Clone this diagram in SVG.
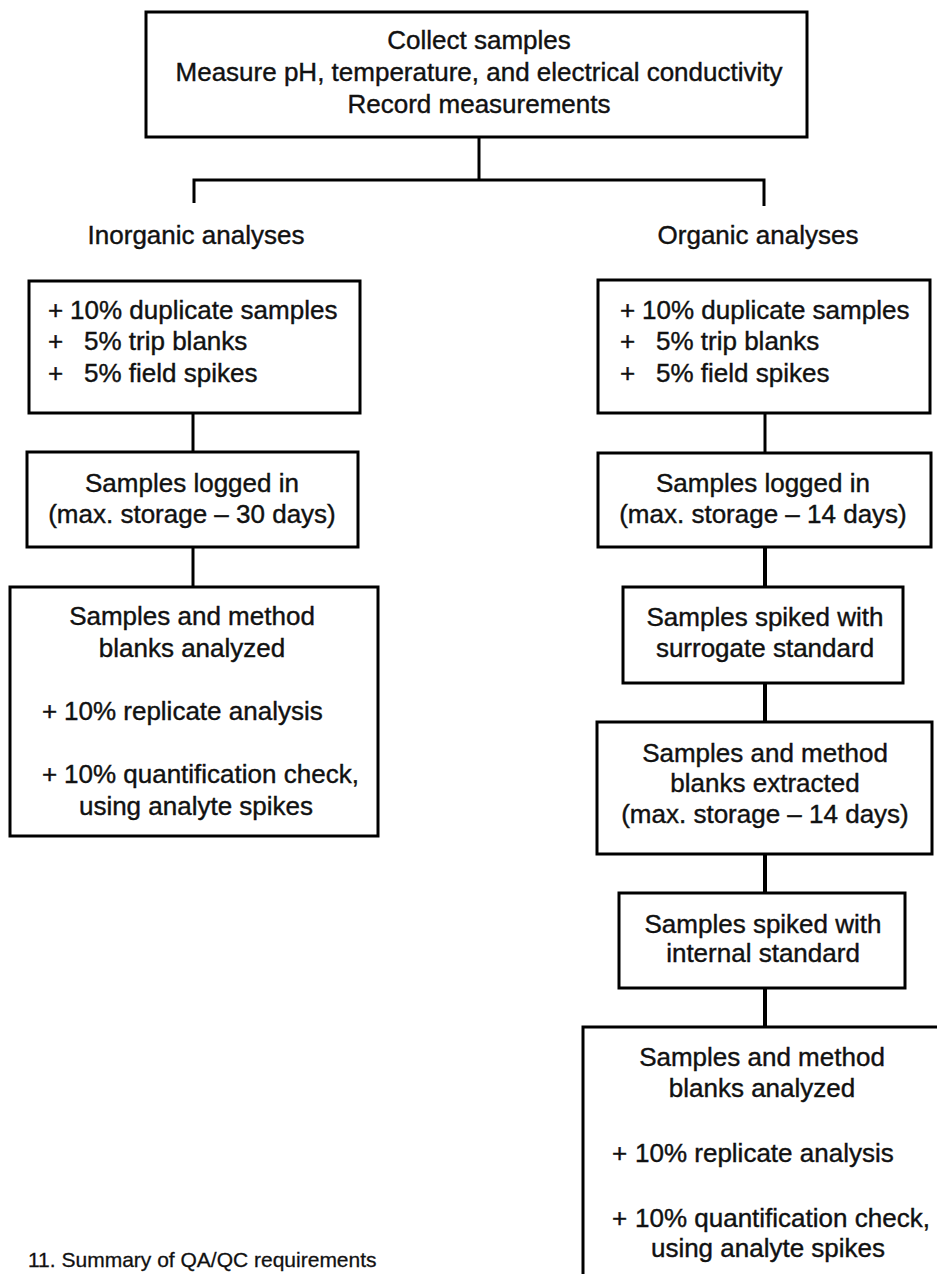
<svg xmlns="http://www.w3.org/2000/svg" width="937" height="1274" viewBox="0 0 937 1274">
<style>
rect.box{fill:#fff;stroke:#000;stroke-width:3}
.con{fill:none;stroke:#000;stroke-width:3}
text{font-family:"Liberation Sans",Arial,sans-serif;font-size:26px;fill:#111;stroke:#111;stroke-width:0.4}
.c{text-anchor:middle}
</style>
<rect width="937" height="1274" fill="#fff"/>
<g id="connectors">
<path class="con" d="M479,137 V180"/>
<path class="con" d="M194,203 V180 H764 V206"/>
<path class="con" d="M193,413 V452"/>
<path class="con" d="M193,547 V587"/>
<path class="con" d="M765,413 V453"/>
<path class="con" d="M765,547 V587" style="stroke-width:4"/>
<path class="con" d="M765,683 V722" style="stroke-width:4"/>
<path class="con" d="M765,854 V893" style="stroke-width:4"/>
<path class="con" d="M765,988 V1027" style="stroke-width:4"/>
</g>
<g id="collect">
<rect class="box" x="146" y="12" width="661" height="125"/>
<text class="c" x="479" y="49">Collect samples</text>
<text class="c" x="479" y="81">Measure pH, temperature, and electrical conductivity</text>
<text class="c" x="479" y="113">Record measurements</text>
</g>
<g id="label-inorganic"><text class="c" x="196" y="244">Inorganic analyses</text></g>
<g id="label-organic"><text class="c" x="758" y="244">Organic analyses</text></g>
<g id="inorg-qc">
<rect class="box" x="29" y="281" width="331" height="132"/>
<text x="48" y="319">+</text><text x="70" y="319">10% duplicate samples</text>
<text x="48" y="350">+</text><text x="84" y="350">5% trip blanks</text>
<text x="48" y="382">+</text><text x="84" y="382">5% field spikes</text>
</g>
<g id="inorg-logged">
<rect class="box" x="27" y="452" width="331" height="95"/>
<text class="c" x="192" y="492">Samples logged in</text>
<text class="c" x="192" y="523">(max. storage – 30 days)</text>
</g>
<g id="inorg-analyzed">
<rect class="box" x="10" y="587" width="368" height="249"/>
<text class="c" x="192" y="625">Samples and method</text>
<text class="c" x="192" y="657">blanks analyzed</text>
<text x="42" y="720">+</text><text x="64" y="720">10% replicate analysis</text>
<text x="42" y="783">+</text><text x="64" y="783">10% quantification check,</text>
<text class="c" x="196" y="815">using analyte spikes</text>
</g>
<g id="org-qc">
<rect class="box" x="598" y="280" width="332" height="133"/>
<text x="620" y="319">+</text><text x="642" y="319">10% duplicate samples</text>
<text x="620" y="350">+</text><text x="656" y="350">5% trip blanks</text>
<text x="620" y="382">+</text><text x="656" y="382">5% field spikes</text>
</g>
<g id="org-logged">
<rect class="box" x="598" y="453" width="333" height="94"/>
<text class="c" x="763" y="492">Samples logged in</text>
<text class="c" x="763" y="523">(max. storage – 14 days)</text>
</g>
<g id="org-surrogate">
<rect class="box" x="623" y="587" width="280" height="96"/>
<text class="c" x="765" y="626">Samples spiked with</text>
<text class="c" x="765" y="657">surrogate standard</text>
</g>
<g id="org-extracted">
<rect class="box" x="597" y="722" width="335" height="132"/>
<text class="c" x="765" y="762">Samples and method</text>
<text class="c" x="765" y="792">blanks extracted</text>
<text class="c" x="765" y="823">(max. storage – 14 days)</text>
</g>
<g id="org-internal">
<rect class="box" x="619" y="893" width="286" height="95"/>
<text class="c" x="763" y="933">Samples spiked with</text>
<text class="c" x="763" y="962">internal standard</text>
</g>
<g id="org-analyzed">
<rect class="box" x="583" y="1027" width="370" height="270"/>
<text class="c" x="762" y="1066">Samples and method</text>
<text class="c" x="762" y="1097">blanks analyzed</text>
<text x="612" y="1162">+</text><text x="635" y="1162">10% replicate analysis</text>
<text x="612" y="1227">+</text><text x="635" y="1227">10% quantification check,</text>
<text class="c" x="768" y="1257">using analyte spikes</text>
</g>
<g id="caption"><text x="28" y="1267" style="font-size:21px;stroke-width:0.3">11. Summary of QA/QC requirements</text></g>
</svg>
